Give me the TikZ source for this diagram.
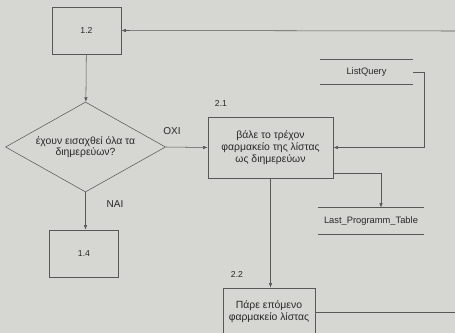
\documentclass[tikz,border=0pt]{standalone}
\usepackage{fontspec}
\setmainfont{Liberation Sans}
\usepackage{xcolor}
\usetikzlibrary{arrows.meta,positioning,shapes.geometric}
\definecolor{paper}{RGB}{214,214,210}
\definecolor{ink}{RGB}{88,88,88}
\definecolor{txt}{RGB}{40,40,40}

\begin{document}
\begin{tikzpicture}[x=0.75pt,y=-0.75pt,
  proc/.style={draw=ink,text=txt,align=center,inner sep=0pt,
    font=\fontsize{7.8}{9.2}\selectfont},
  numbox/.style={proc,font=\fontsize{6.5}{8}\selectfont,
    minimum width=69*0.75pt,minimum height=47*0.75pt},
  decision/.style={diamond,aspect=1.8,draw=ink,text=txt,align=center,inner sep=0pt,
    font=\fontsize{7.8}{7.2}\selectfont,
    minimum width=160*0.75pt,minimum height=90*0.75pt},
  store/.style={text=txt,inner sep=0pt,font=\fontsize{7}{8}\selectfont},
  lbl/.style={text=txt,inner sep=0pt,font=\fontsize{6.5}{8}\selectfont},
  flow/.style={draw=ink,line width=0.4pt,-{Latex[length=3.5pt,width=2.6pt]}},
  link/.style={draw=ink,line width=0.4pt}]
\clip (0,0) rectangle (455,333);
\fill[paper] (0,0) rectangle (455,333);

% boxes
\node[numbox] (b12) at (86.5,30.5) {1.2};
\node[decision] (q) at (85.5,147) {έχουν εισαχθεί όλα τα\\διημερεύων?};
\node[numbox] (b14) at (84,253.5) {1.4};
\node[proc,minimum width=125*0.75pt,minimum height=61*0.75pt] (b21) at (270.5,147.5)
  {βάλε το τρέχον\\φαρμακείο της λίστας\\ως διημερεύων};
\node[proc,minimum width=92*0.75pt,minimum height=48*0.75pt] (b22) at (269,312)
  {Πάρε επόμενο\\φαρμακείο λίστας};

% data stores
\node[store,minimum width=93*0.75pt,minimum height=24*0.75pt] (lq) at (366.5,72) {ListQuery};
\draw[link] (lq.north west) -- (lq.north east) (lq.south west) -- (lq.south east);
\node[store,minimum width=106*0.75pt,minimum height=26*0.75pt] (lpt) at (371,221) {Last\_Programm\_Table};
\draw[link] (lpt.north west) -- (lpt.north east) (lpt.south west) -- (lpt.south east);

% labels
\node[lbl] (n21) at (221,103) {2.1};
\node[lbl] (n22) at (237,274) {2.2};
\node[lbl,font=\fontsize{7.5}{8}\selectfont] (oxi) at (172,131) {ΟΧΙ};
\node[lbl,font=\fontsize{7.5}{8}\selectfont] (nai) at (115,204) {ΝΑΙ};

% connectors
\coordinate (back) at (455,31);
\coordinate (out) at (455,312);
\draw[flow] (back) -- (b12.east);
\draw[flow] (b12) -- (q);
\draw[flow] (q.south) -- (q.south |- b14.north);
\draw[flow] (q.east) -- (b21.west);
\draw[flow] (lq.east) -- ++(11,0) |- (b21.east);
\draw[flow] ([yshift=3.75pt]b21.south east) -| ([xshift=7.5pt]lpt.north);
\draw[flow] (b21.south) -- (b21.south |- b22.north);
\draw[link] (b22.east) -- (out);
\end{tikzpicture}
\end{document}
